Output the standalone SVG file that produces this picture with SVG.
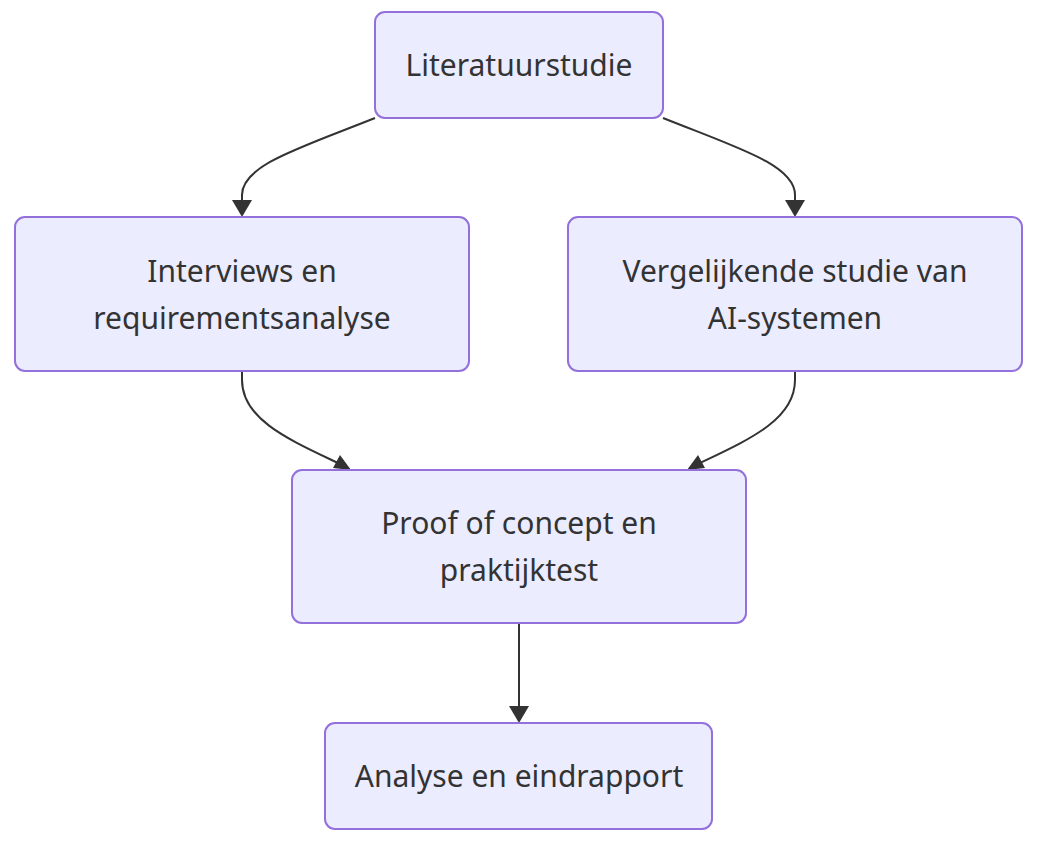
<svg xmlns="http://www.w3.org/2000/svg" width="1043" height="847" viewBox="0 0 1043 847">
<style>
.node rect{fill:#ECECFF;stroke:#9370DB;stroke-width:2}
.node text{font-family:"Trebuchet MS","Noto Sans","DejaVu Sans",sans-serif;font-size:30px;fill:#333;text-anchor:middle}
.edges path{fill:none;stroke:#333;stroke-width:2}
.edges path.head{fill:#333;stroke:none}
</style>
<rect width="1043" height="847" fill="#fff"/>
<g class="edges">
<path d="M375,118 C300,148 242,165 242,195 L242,202"/>
<path d="M663,118 C738,148 795,165 795,195 L795,202"/>
<path d="M242,371 L242,380 C242,420 290,440 340,464"/>
<path d="M795,371 L795,380 C795,420 748,440 698,464"/>
<path d="M519,623 L519,708"/>
<path class="head" d="M232,200 L242,217 L252,200 z"/>
<path class="head" d="M785,200 L795,217 L805,200 z"/>
<path class="head" d="M509,706 L519,723 L529,706 z"/>
<path class="head" d="M333,468 L351,470 L340,455 z"/>
<path class="head" d="M705,468 L687,470 L698,455 z"/>
</g>
<g id="n1" class="node">
<rect x="375" y="12" width="288" height="106" rx="10"/>
<text x="519" y="76">Literatuurstudie</text>
</g>
<g id="n2" class="node">
<rect x="15" y="217" width="454" height="154" rx="10"/>
<text x="242" y="282">Interviews en</text>
<text x="242" y="329">requirementsanalyse</text>
</g>
<g id="n3" class="node">
<rect x="568" y="217" width="454" height="154" rx="10"/>
<text x="795" y="282">Vergelijkende studie van</text>
<text x="795" y="329">AI-systemen</text>
</g>
<g id="n4" class="node">
<rect x="292" y="470" width="454" height="153" rx="10"/>
<text x="519" y="534">Proof of concept en</text>
<text x="519" y="581">praktijktest</text>
</g>
<g id="n5" class="node">
<rect x="325" y="723" width="387" height="106" rx="10"/>
<text x="519" y="787">Analyse en eindrapport</text>
</g>
</svg>
